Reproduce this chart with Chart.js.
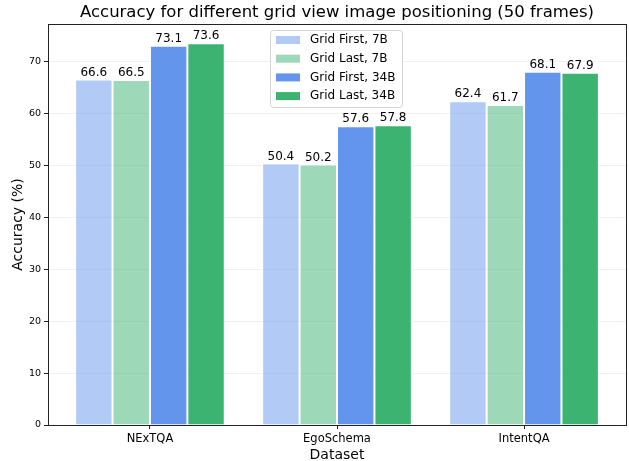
<!DOCTYPE html>
<html>
<head>
<meta charset="utf-8">
<script src="https://cdn.jsdelivr.net/npm/chart.js@4.4.0/dist/chart.umd.min.js"></script>
<style>
  html, body { margin: 0; padding: 0; background: #fff; }
  #wrap { width: 629px; height: 461px; }
</style>
</head>
<body>
<div id="wrap"><canvas id="c" width="629" height="461"></canvas></div>
<script>
const categories = ['NExTQA', 'EgoSchema', 'IntentQA'];
const seriesNames = ['Grid First, 7B', 'Grid Last, 7B', 'Grid First, 34B', 'Grid Last, 34B'];
const gridFirst7B = [66.6, 50.4, 62.4];
const gridLast7B = [66.5, 50.2, 61.7];
const gridFirst34B = [73.1, 57.6, 68.1];
const gridLast34B = [73.6, 57.8, 67.9];
const yTicks = [0, 10, 20, 30, 40, 50, 60, 70];
const chartTitle = 'Accuracy for different grid view image positioning (50 frames)';

const colors = ['rgba(100,149,237,0.5)', 'rgba(60,179,113,0.5)', 'rgb(100,149,237)', 'rgb(60,179,113)'];
const allSeries = [gridFirst7B, gridLast7B, gridFirst34B, gridLast34B];
const FONT = "'DejaVu Sans', sans-serif";

const datasets = allSeries.map((vals, i) => ({
  label: seriesNames[i],
  data: vals.map((v, j) => ({ x: j, y: v })),
  backgroundColor: colors[i],
  borderColor: '#ffffff',
  borderWidth: 1,
  categoryPercentage: 0.8,
  barPercentage: 1.0
}));

const extras = {
  id: 'extras',
  afterDatasetsDraw(chart) {
    const ctx = chart.ctx;
    const a = chart.chartArea;
    ctx.save();
    // title, centred over the plot area
    ctx.font = '16.5px ' + FONT;
    ctx.fillStyle = '#000';
    ctx.textAlign = 'center';
    ctx.textBaseline = 'middle';
    ctx.fillText(chartTitle, (a.left + a.right) / 2, 13);
    // bar value labels
    ctx.font = '12px ' + FONT;
    ctx.textBaseline = 'bottom';
    chart.data.datasets.forEach((ds, i) => {
      chart.getDatasetMeta(i).data.forEach((bar, j) => {
        ctx.fillText(ds.data[j].y.toFixed(1), bar.x, bar.y - 1);
      });
    });
    // frame
    ctx.strokeStyle = '#222';
    ctx.lineWidth = 1;
    ctx.strokeRect(a.left + 0.5, a.top + 0.5, a.right - a.left, a.bottom - a.top);
    // legend
    const lx = 270.5, ly = 30.5, lw = 132, lh = 77;
    ctx.fillStyle = 'rgba(255,255,255,0.85)';
    ctx.strokeStyle = '#d4d4d4';
    ctx.beginPath();
    ctx.roundRect(lx, ly, lw, lh, 3);
    ctx.fill();
    ctx.stroke();
    ctx.font = '12px ' + FONT;
    ctx.textAlign = 'left';
    ctx.textBaseline = 'middle';
    chart.data.datasets.forEach((ds, i) => {
      const y = 40 + i * 18.7;
      ctx.fillStyle = ds.backgroundColor;
      ctx.fillRect(276, y - 4, 24, 8);
      ctx.fillStyle = '#000';
      ctx.fillText(ds.label, 310, y);
    });
    ctx.restore();
  }
};

new Chart(document.getElementById('c'), {
  type: 'bar',
  data: { datasets },
  options: {
    responsive: false,
    animation: false,
    layout: { padding: { left: 0, top: 24, right: 3, bottom: 0 } },
    plugins: {
      legend: { display: false },
      tooltip: { enabled: false },
      title: { display: false }
    },
    scales: {
      x: {
        type: 'linear',
        offset: false,
        min: -0.545,
        max: 2.545,
        afterBuildTicks: s => { s.ticks = categories.map((c, i) => ({ value: i })); },
        afterFit: s => { s.height = 36; },
        ticks: {
          callback: v => categories[v],
          font: { family: FONT, size: 11.5 },
          color: '#000',
          padding: 3
        },
        grid: { display: true, drawOnChartArea: false, offset: false, tickLength: 4, tickColor: '#222' },
        border: { color: '#222' },
        title: {
          display: true,
          text: 'Dataset',
          font: { family: FONT, size: 14 },
          color: '#000',
          padding: { top: 2, bottom: -3 }
        }
      },
      y: {
        min: 0,
        max: 77.3,
        afterBuildTicks: s => { s.ticks = yTicks.map(v => ({ value: v })); },
        afterFit: s => { s.width = 48; },
        ticks: {
          font: { family: FONT, size: 9.5 },
          color: '#000',
          padding: 3
        },
        grid: { color: 'rgba(0,0,0,0.06)', tickLength: 4, tickColor: '#222' },
        border: { color: '#222' },
        title: {
          display: true,
          text: 'Accuracy (%)',
          font: { family: FONT, size: 14 },
          color: '#000',
          padding: { top: 10, bottom: 4 }
        }
      }
    }
  },
  plugins: [extras]
});
</script>
</body>
</html>
